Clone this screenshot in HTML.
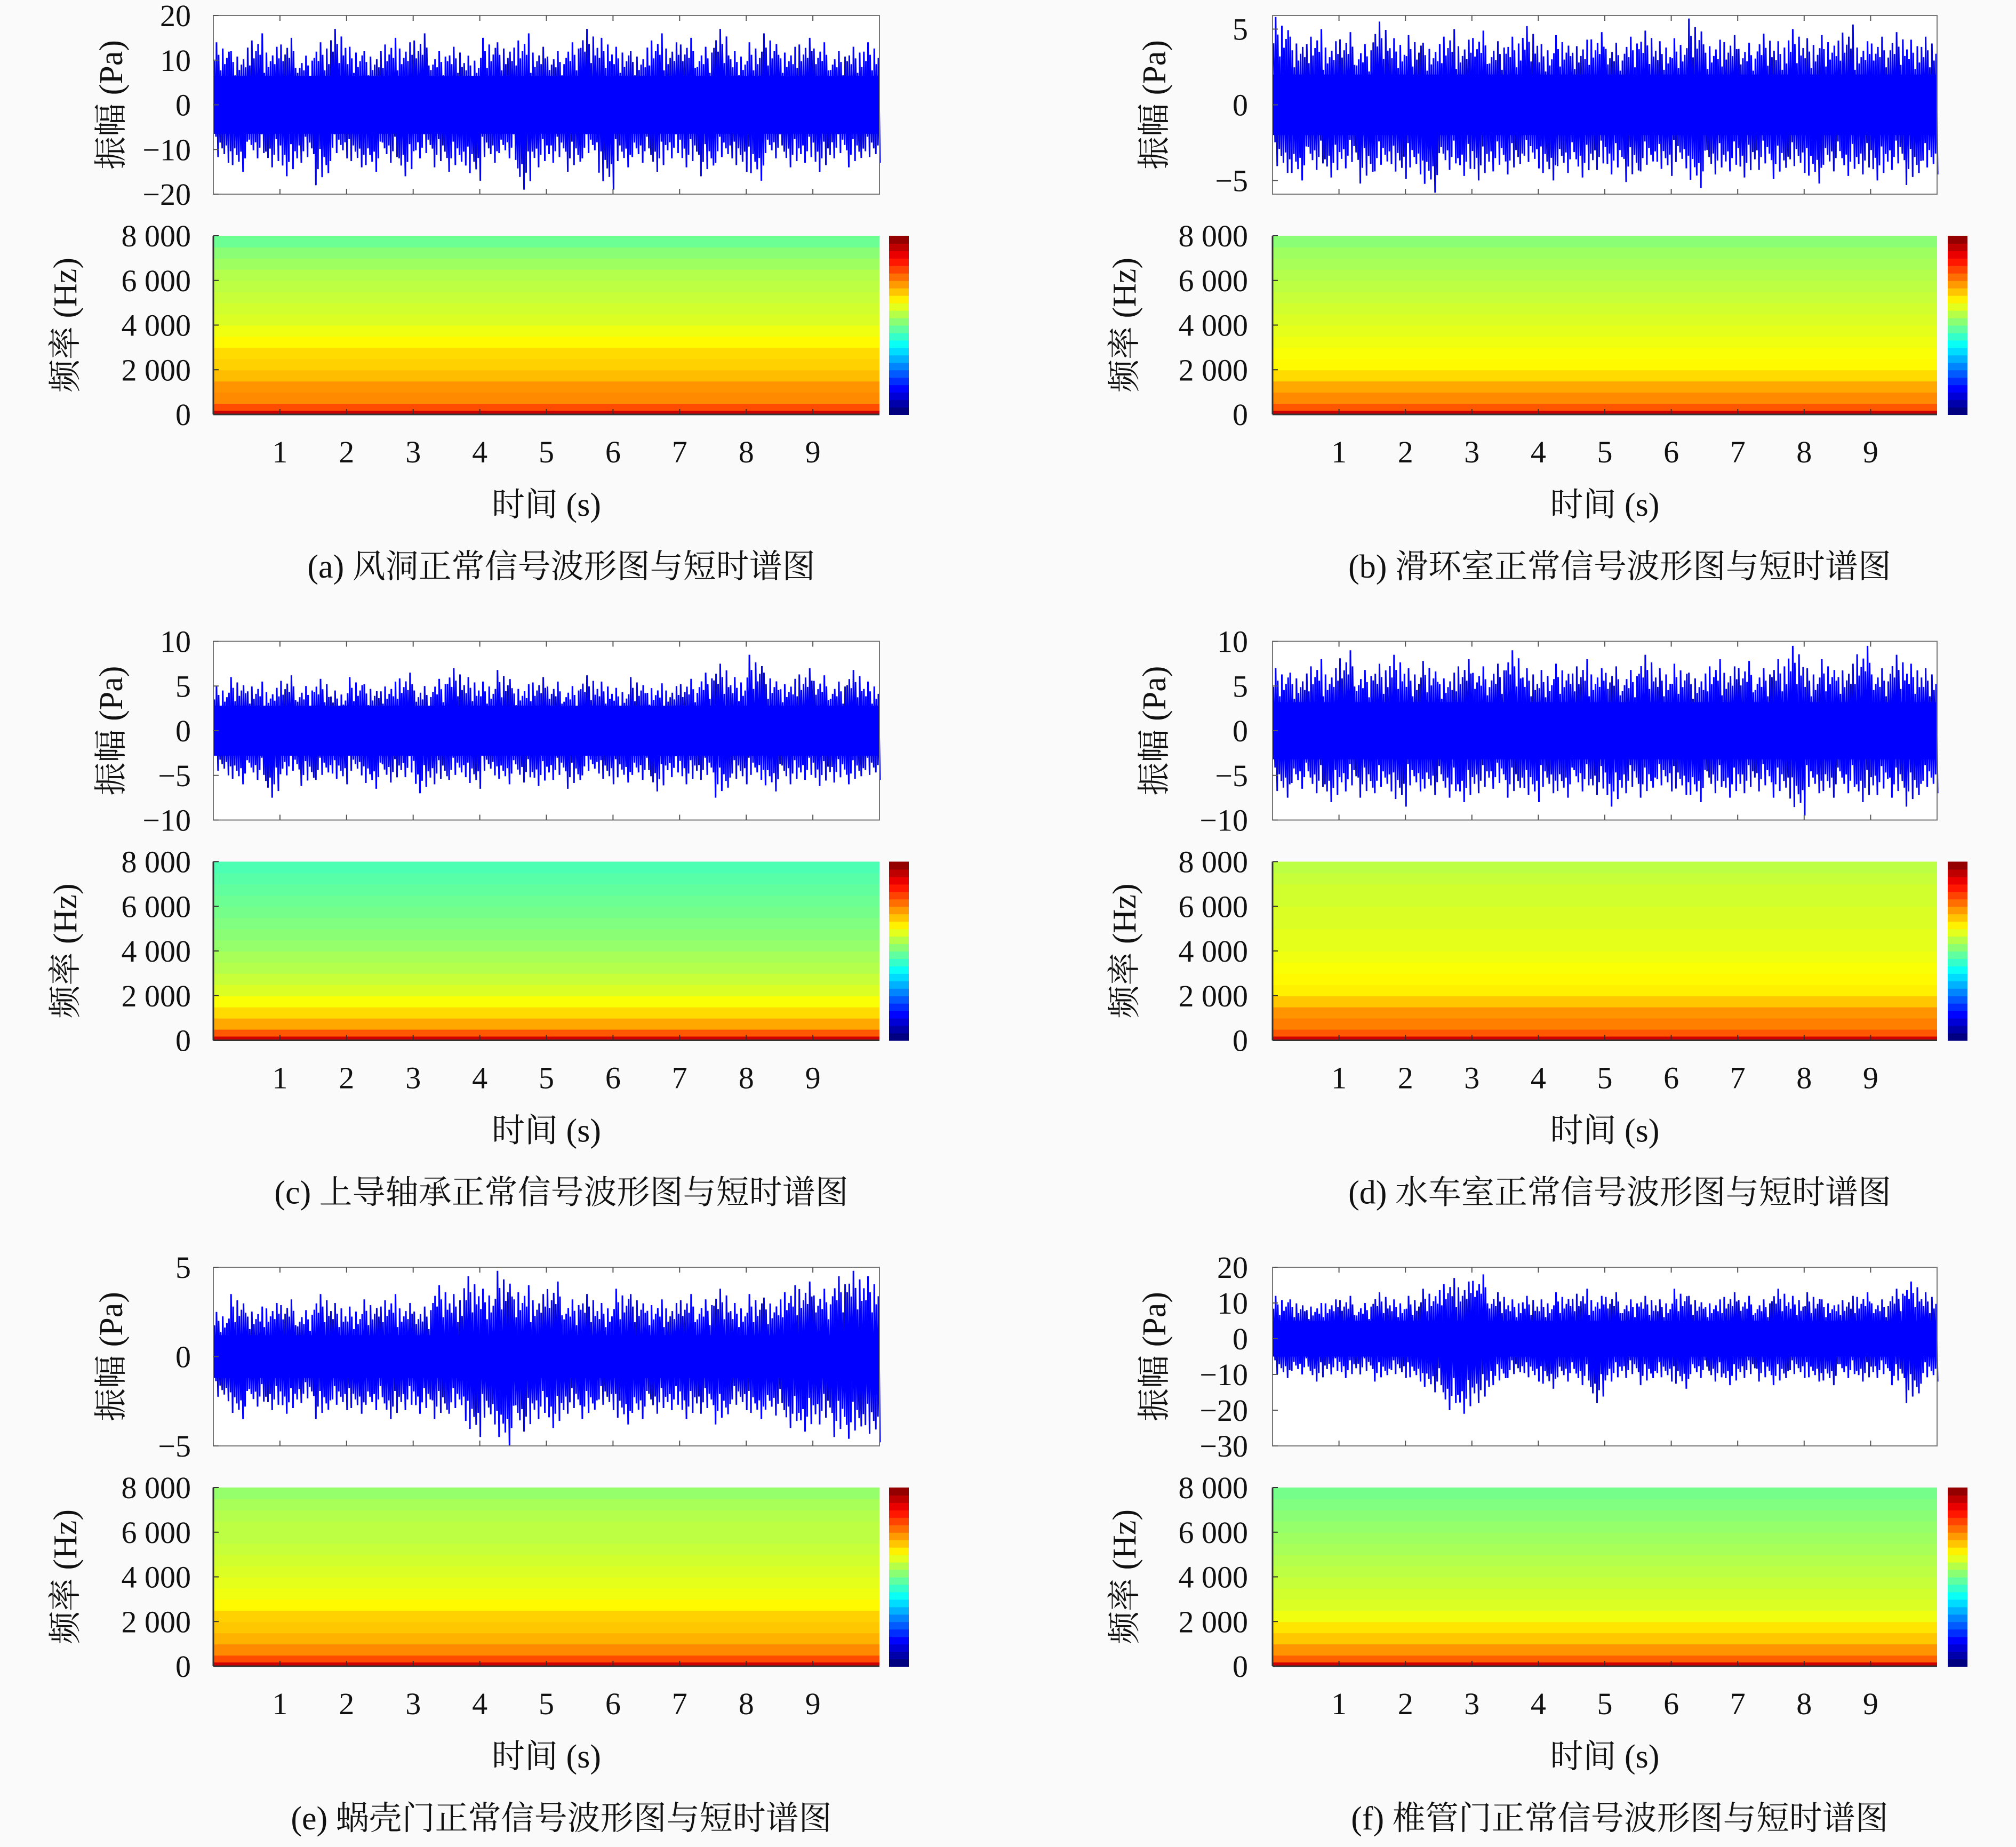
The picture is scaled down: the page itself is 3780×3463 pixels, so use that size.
<!DOCTYPE html>
<html><head><meta charset="utf-8"><style>
html,body{margin:0;padding:0;background:#fafafa;}
svg{display:block;}
text{font-family:"Liberation Serif","Noto Serif CJK SC",serif;fill:#111;}
</style></head><body>
<svg id="fig" xmlns="http://www.w3.org/2000/svg" width="3780" height="3463" viewBox="0 0 3780 3463"></svg>
<script>
// ---------- data ----------
const captions = ["(a) 风洞正常信号波形图与短时谱图","(b) 滑环室正常信号波形图与短时谱图","(c) 上导轴承正常信号波形图与短时谱图","(d) 水车室正常信号波形图与短时谱图","(e) 蜗壳门正常信号波形图与短时谱图","(f) 椎管门正常信号波形图与短时谱图"];
const timeTicks = [1,2,3,4,5,6,7,8,9];
const freqTicks = [0,2000,4000,6000,8000];
const freqTickLabels = ["0","2 000","4 000","6 000","8 000"];
const ampRanges = [[-20,20],[-5.9,5.9],[-10,10],[-10,10],[-5,5],[-30,20]];
const ampTicks = [[-20,-10,0,10,20],[-5,0,5],[-10,-5,0,5,10],[-10,-5,0,5,10],[-5,0,5],[-30,-20,-10,0,10,20]];
const coreAmp = [6.5,2.0,2.8,3.2,1.2,5];
const hiA = [14,12,16,13,15,11,14,17,13,12,15,14,16,12,13,11,15,14,16,13,12,14,17,15,13,12,16,14,15,13,17,12,14,16,13,15,14,12,13,14];
const loA = [-13,-15,-12,-14,-16,-13,-18,-12,-14,-15,-13,-16,-12,-14,-15,-17,-13,-12,-19,-14,-13,-15,-12,-19,-14,-13,-15,-12,-14,-16,-13,-15,-17,-12,-14,-13,-15,-12,-14,-13];
const hiB = [5.8,4.5,5,4.2,4.8,4,5.5,4.4,4.6,4.1,5,4.3,4.9,4.2,4.5,5.2,4,4.6,4.3,4.8,4.1,4.5,4.9,4.2,4.4,5.7,4.3,4.6,4.1,4.7,4.2,5,4.4,4.6,5.3,4.2,4.5,4.8,4.3,4.5];
const loB = [-4.5,-5,-4.3,-4.8,-4.2,-5.2,-4.4,-4.9,-4.6,-5.8,-4.3,-4.7,-5,-4.4,-4.6,-4.2,-5,-4.5,-4.8,-4.3,-4.6,-5.1,-4.4,-4.7,-4.2,-5.5,-4.6,-4.4,-4.8,-4.3,-4.9,-4.5,-5.2,-4.4,-4.7,-4.6,-5,-4.3,-5.3,-4.6];
const hiC = [5,6,5.5,4.8,6.2,5,5.8,4.5,6,5.2,5.5,6.5,5,5.8,7,6,5.5,6.8,5.2,6,5.5,5,6.2,5.5,4.8,6,5.3,5,5.8,6.5,7.5,6,8.5,6.5,5.8,7,6.2,5.5,6.8,5.5];
const loC = [-5,-6,-5.5,-7.5,-5,-6.2,-5.5,-6,-5,-6.5,-5.8,-5.2,-7,-6,-5.5,-6.5,-5,-6,-5.8,-6.2,-5.5,-6.5,-5,-6,-5.8,-5.5,-6.8,-5.2,-6,-5.5,-7.5,-6,-5.5,-6.8,-6,-5.5,-6.2,-5.8,-6,-5.5];
const hiD = [7,6.5,8,7,9,6.8,7.5,8.5,7,7.8,6.5,8,7.2,7.5,9,7,6.8,7.5,8,7,7.2,6.8,8.5,7,7.5,6.5,8,7.2,7.8,7,8,9.5,7,8,7.5,9.5,7,8.5,7.5,7];
const loD = [-7.5,-6.5,-7,-8,-6.8,-7.5,-7,-8.5,-6.8,-7.2,-7.5,-8,-7,-6.5,-7.5,-8,-7,-7.5,-6.8,-7.2,-8.5,-7,-7.5,-6.8,-7.2,-8,-7,-7.5,-7,-6.8,-7.5,-9.5,-7,-7.5,-7,-8,-7.2,-7.5,-8.5,-7];
const hiE = [2.5,3.5,2.8,3,3.2,2.6,3.5,3,2.8,3.2,3.5,3,2.8,4,3.5,4.5,3.8,4.8,4,3.5,4.2,3.2,3.5,3,3.8,3.5,3.2,3,3.5,3.2,3.8,3,3.5,3.3,4,4.2,3.8,4.5,4.8,4.5];
const loE = [-2.5,-3.5,-2.8,-3,-3.2,-2.6,-3.5,-3,-3.2,-3,-3.5,-3,-3.2,-3.5,-3.2,-4.5,-3.8,-5,-4.2,-3.5,-4,-3.2,-3.5,-3,-3.8,-3.5,-3.2,-3,-3.5,-3.2,-3.8,-3,-3.5,-3.3,-4,-4.2,-3.8,-4.5,-4.6,-4.8];
const hiF = [12,11,10,11,12,10,13,11,12,14,17,16,18,13,11,12,11,13,14,12,13,11,12,11,14,12,11,13,12,11,14,12,13,11,12,13,11,14,16,13];
const loF = [-11,-10,-12,-10,-11,-10,-12,-11,-12,-15,-20,-21,-18,-13,-11,-12,-14,-12,-13,-18,-12,-11,-13,-12,-14,-11,-12,-13,-11,-12,-13,-11,-12,-13,-11,-12,-11,-13,-18,-12];
const his = [hiA,hiB,hiC,hiD,hiE,hiF];
const los = [loA,loB,loC,loD,loE,loF];
// spectrogram levels (0..1 colormap value), bands from 0 Hz upward, 500 Hz each
const specA = [0.80,0.74,0.73,0.69,0.67,0.66,0.63,0.61,0.59,0.58,0.57,0.56,0.55,0.53,0.51,0.48];
const specB = [0.79,0.74,0.71,0.66,0.63,0.62,0.61,0.60,0.59,0.58,0.57,0.56,0.55,0.54,0.53,0.51];
const specC = [0.79,0.71,0.66,0.62,0.59,0.57,0.55,0.54,0.52,0.51,0.50,0.49,0.48,0.47,0.46,0.45];
const specD = [0.79,0.75,0.73,0.68,0.64,0.63,0.62,0.61,0.60,0.60,0.59,0.59,0.58,0.58,0.57,0.56];
const specE = [0.80,0.74,0.70,0.68,0.67,0.63,0.61,0.60,0.59,0.58,0.57,0.56,0.56,0.55,0.54,0.52];
const specF = [0.78,0.73,0.68,0.65,0.61,0.59,0.58,0.57,0.56,0.55,0.54,0.53,0.52,0.51,0.50,0.49];
const specs = [specA,specB,specC,specD,specE,specF];

// ---------- drawing ----------
const NS="http://www.w3.org/2000/svg";
const svg=document.getElementById('fig');
function mk(tag,attrs,parent){const e=document.createElementNS(NS,tag);for(const k in attrs)e.setAttribute(k,attrs[k]);(parent||svg).appendChild(e);return e;}
function jet(v){const c=x=>Math.max(0,Math.min(1,x));const r=c(1.5-Math.abs(4*v-3)),g=c(1.5-Math.abs(4*v-2)),b=c(1.5-Math.abs(4*v-1));return `rgb(${Math.round(r*255)},${Math.round(g*255)},${Math.round(b*255)})`;}

const cols=[{x0:400,x1:1649,cb:1667,tl:358,wl:207,sl:121},{x0:2386,x1:3632,cb:3652,tl:2340,wl:2163,sl:2107}];
const rowOff=1173.5;
const FS=58;
const subF=[0.7,1,0.8,0.55,0.9,0.65,0.75,0.85];

for(let p=0;p<6;p++){
  const c=cols[p%2], r=Math.floor(p/2);
  const g=mk('g',{});
  
  
  const wy0=29+r*rowOff, wy1=364+r*rowOff, sy0=442+r*rowOff, sy1=777+r*rowOff;
  const tx=t=>c.x0+(c.x1-c.x0)*t/10;
  const [amin,amax]=ampRanges[p];
  const ay=v=>wy1-(wy1-wy0)*(v-amin)/(amax-amin);
  const fy=f=>sy1-(sy1-sy0)*f/8000;
  const wf=mk('g',{},g);
  
  
  const bg=mk('rect',{x:c.x0,y:wy0,width:c.x1-c.x0,height:wy1-wy0,fill:'#fff'},wf);
  
  
  const core=mk('rect',{x:c.x0,y:ay(coreAmp[p]),width:c.x1-c.x0,height:ay(-coreAmp[p])-ay(coreAmp[p]),fill:'#0000ff'},wf);
  
  
  const hi=his[p], lo=los[p], n=hi.length;
  let d='';
  const m=subF.length;
  for(let i=0;i<n;i++){
    for(let k=0;k<m;k++){
      const x=tx(10*(i+(k+0.5)/m)/n);
      const f=subF[(k+i)%m];
      d+=((i||k)?'L':'M')+x.toFixed(1)+','+ay(hi[i]*f).toFixed(1)+'L'+(x+3).toFixed(1)+','+ay(lo[i]*subF[(k+i+3)%m]).toFixed(1);
    }
  }
  const wl=mk('path',{d:d,fill:'none',stroke:'#0000ff','stroke-width':3},wf);
  
  
  const wb=mk('rect',{x:c.x0,y:wy0,width:c.x1-c.x0,height:wy1-wy0,fill:'none',stroke:'#777','stroke-width':2},wf);
  
  
  for(const t of timeTicks){
    mk('line',{x1:tx(t),x2:tx(t),y1:wy1,y2:wy1-10,stroke:'#555','stroke-width':2},wf);
    mk('line',{x1:tx(t),x2:tx(t),y1:wy0,y2:wy0+10,stroke:'#555','stroke-width':2},wf);
  }
  for(const v of ampTicks[p]){
    mk('line',{x1:c.x0,x2:c.x0+10,y1:ay(v),y2:ay(v),stroke:'#555','stroke-width':2},wf);
    const t=mk('text',{x:c.tl,y:ay(v)+20,'text-anchor':'end','font-size':FS},wf);
    
    
    t.textContent=v<0?'\u2212'+(-v):String(v);
  }
  const yl=mk('text',{x:0,y:0,'text-anchor':'middle','font-size':62,transform:`translate(${c.wl+22},${(wy0+wy1)/2}) rotate(-90)`},wf);
  
  
  yl.textContent='振幅 (Pa)';
  const sp=mk('g',{},g);
  
  
  const lv=specs[p];
  for(let i=0;i<lv.length;i++){
    const f0=i*8000/lv.length, f1=(i+1)*8000/lv.length;
    const cell=mk('rect',{x:c.x0,y:fy(f1),width:c.x1-c.x0,height:fy(f0)-fy(f1)+1,fill:jet(lv[i])},sp);
    
    
  }
  const base=mk('rect',{x:c.x0,y:sy1-7,width:c.x1-c.x0,height:7,fill:jet(0.92)},sp);
  
  
  mk('line',{x1:c.x0,x2:c.x0,y1:sy0,y2:sy1,stroke:'#333','stroke-width':3},sp);
  mk('line',{x1:c.x0,x2:c.x1,y1:sy1,y2:sy1,stroke:'#333','stroke-width':3},sp);
  for(const t of timeTicks){
    mk('line',{x1:tx(t),x2:tx(t),y1:sy1,y2:sy1-10,stroke:'#333','stroke-width':2},sp);
    const tl=mk('text',{x:tx(t),y:sy1+90,'text-anchor':'middle','font-size':FS},sp);
    
    
    tl.textContent=String(t);
  }
  freqTicks.forEach((f,i)=>{
    mk('line',{x1:c.x0,x2:c.x0+10,y1:fy(f),y2:fy(f),stroke:'#333','stroke-width':2},sp);
    const t=mk('text',{x:c.tl,y:fy(f)+20,'text-anchor':'end','font-size':FS},sp);
    
    
    t.textContent=freqTickLabels[i];
  });
  const fl=mk('text',{x:0,y:0,'text-anchor':'middle','font-size':62,transform:`translate(${c.sl+22},${(sy0+sy1)/2}) rotate(-90)`},sp);
  
  
  fl.textContent='频率 (Hz)';
  const cb=mk('g',{},g);
  
  
  const steps=24;
  for(let i=0;i<steps;i++){
    const h=(sy1-sy0)/steps;
    mk('rect',{x:c.cb,y:sy1-(i+1)*h,width:37,height:h+1,fill:jet(0.0+0.98*i/(steps-1))},cb);
  }
  const xt=mk('text',{x:(c.x0+c.x1)/2,y:sy1+190,'text-anchor':'middle','font-size':62},g);
  
  
  xt.textContent='时间 (s)';
  const cp=mk('text',{x:(c.x0+c.x1)/2+28,y:sy1+306,'text-anchor':'middle','font-size':62},g);
  
  
  cp.textContent=captions[p];
}
</script>
</body></html>
